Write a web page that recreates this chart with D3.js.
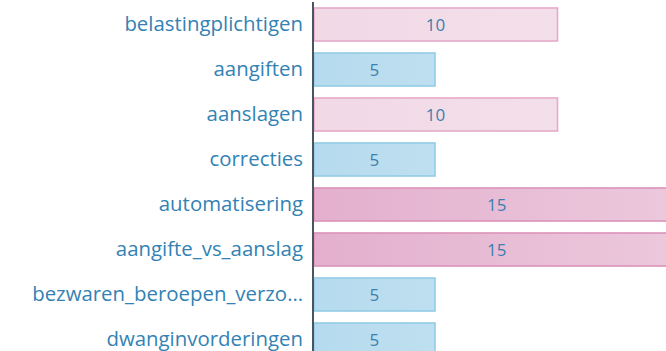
<!DOCTYPE html>
<html>
<head>
<meta charset="utf-8">
<script src="https://cdn.jsdelivr.net/npm/d3@7"></script>
<style>
  html, body { margin: 0; padding: 0; background: #ffffff; overflow: hidden; }
  svg { display: block; }
</style>
</head>
<body>
<svg id="chart" width="666" height="351"></svg>
<script>
// Onderwerpen en bijbehorende scores
const categories = [
  "belastingplichtigen",
  "aangiften",
  "aanslagen",
  "correcties",
  "automatisering",
  "aangifte_vs_aanslag",
  "bezwaren_beroepen_verzo\u2026",
  "dwanginvorderingen"
];
const values = [10, 5, 10, 5, 15, 15, 5, 5];

const width = 666, height = 351;
const axisX = 313;
const pxPerUnit = 24.5;

const svg = d3.select("#chart");

// Kleurschema per waarde
const palette = {
  5:  { from: "#b6dbee", to: "#cde7f3", stroke: "#93cce6" },
  10: { from: "#f1d9e6", to: "#f4e2ec", stroke: "#e6a9c9" },
  15: { from: "#e3afcd", to: "#ecc9dd", stroke: "#dc92ba" }
};

const defs = svg.append("defs");
Object.entries(palette).forEach(([k, c]) => {
  const g = defs.append("linearGradient")
    .attr("id", "grad" + k)
    .attr("gradientUnits", "userSpaceOnUse")
    .attr("x1", axisX).attr("x2", axisX + 15 * pxPerUnit)
    .attr("y1", 0).attr("y2", 0);
  g.append("stop").attr("offset", "0%").attr("stop-color", c.from);
  g.append("stop").attr("offset", "100%").attr("stop-color", c.to);
});

const x = d3.scaleLinear().domain([0, 15]).range([axisX, axisX + 15 * pxPerUnit]);
const y = d3.scaleBand()
  .domain(categories)
  .range([2, 2 + 45 * categories.length])
  .paddingInner(0.244)
  .paddingOuter(0.122);

const rows = svg.append("g").selectAll("g")
  .data(categories.map((c, i) => ({ cat: c, val: values[i] })))
  .join("g");

rows.append("rect")
  .attr("x", x(0) + 1)
  .attr("y", d => y(d.cat) + 0.5)
  .attr("width", d => x(d.val) - x(0) - 1.5)
  .attr("height", y.bandwidth() - 1)
  .attr("fill", d => `url(#grad${d.val})`)
  .attr("stroke", d => palette[d.val].stroke)
  .attr("stroke-width", 1.6);

rows.append("text")
  .attr("x", d => (x(0) + x(d.val)) / 2)
  .attr("y", d => y(d.cat) + y.bandwidth() / 2)
  .attr("dy", "0.36em")
  .attr("text-anchor", "middle")
  .attr("font-family", "'Open Sans', sans-serif")
  .attr("font-size", 17)
  .attr("fill", "#3d7fae")
  .text(d => d.val);

// Categorie-as links
const axis = d3.axisLeft(y).tickSize(0).tickPadding(10);
const axisG = svg.append("g")
  .attr("transform", `translate(${axisX},0)`)
  .call(axis);
axisG.select(".domain").remove();
axisG.selectAll("text")
  .attr("font-family", "'Open Sans', sans-serif")
  .attr("font-size", 20.4)
  .attr("fill", "#3382b3");

svg.append("line")
  .attr("x1", axisX).attr("x2", axisX)
  .attr("y1", 2).attr("y2", height)
  .attr("stroke", "#4b5560")
  .attr("stroke-width", 2);
</script>
</body>
</html>
